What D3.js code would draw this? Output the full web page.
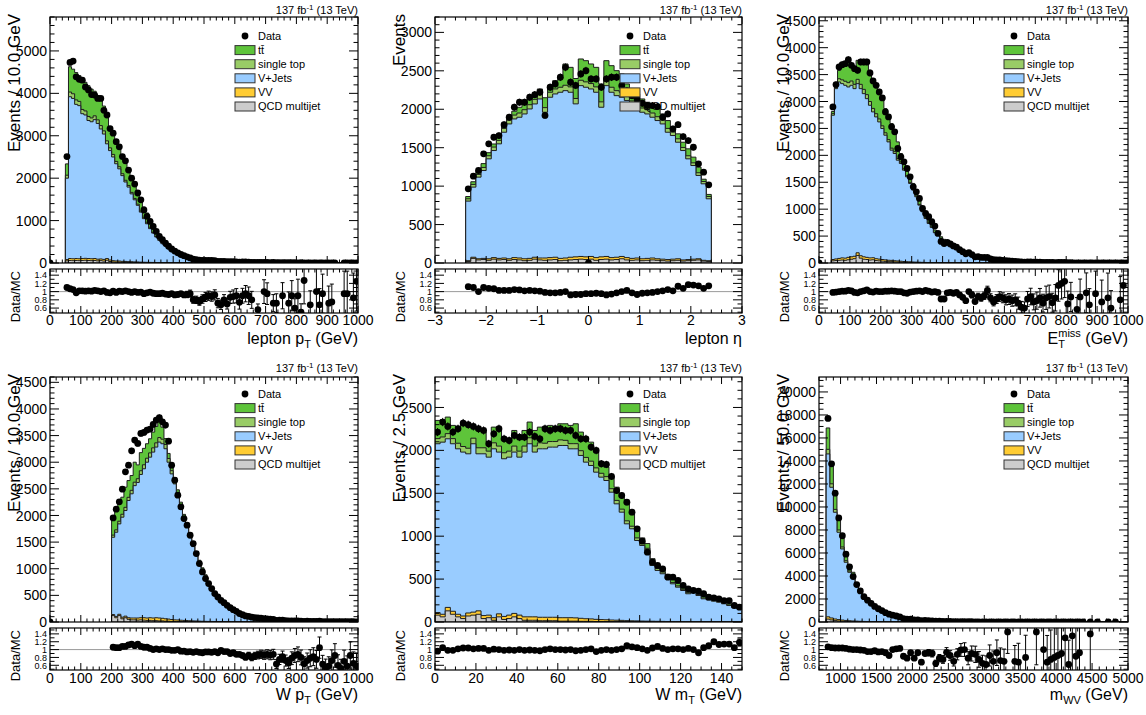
<!DOCTYPE html>
<html><head><meta charset="utf-8">
<script src="https://cdn.jsdelivr.net/npm/d3@7"></script>
<style>
body{margin:0;background:#fff}
svg{display:block}
text{font-family:"Liberation Sans",Arial,Helvetica,sans-serif;fill:#000}
</style>
</head><body>
<svg id="c" width="1146" height="715"></svg>
<script>
// ---------------- DATA ----------------
const legendLabels = ["Data","tt\u0304","single top","V+Jets","VV","QCD multijet"];
const lumiText = "137 fb";

// Panel 1: lepton pT, bins of 10 GeV starting at 50 GeV
const p1Qcd = [50,60,55,60,55,60,65,60,55,60, 50,55,45,65,35,25,20,20,15,15, 12,12,10,10,8,8,7,6,6,5, 5,4,4,3,3,3,2,2,2,2, 2,2,1,1,1,1,1,1,1,1, 0,0,0,0,0,0,0,0,0,0, 0,0,0,0,0,0,0,0,0,0, 0,0,0,0,0,0,0,0,0,0, 0,0,0,0,0,0,0,0,0,0, 0,0,0,0,0];
const p1VV = [30,45,45,45,45,45,45,45,45,45, 40,40,40,40,35,30,28,26,24,22, 20,18,16,14,12,10,9,8,7,6, 5,5,4,4,3,3,3,2,2,2, 2,2,2,2,1,1,1,1,1,1, 1,1,1,1,1,1,1,1,1,1, 0,0,0,0,0,0,0,0,0,0, 0,0,0,0,0,0,0,0,0,0, 0,0,0,0,0,0,0,0,0,0, 0,0,0,0,0];
const p1VJets = [1920,3815,3780,3635,3610,3415,3380,3255,3230,3275, 3200,3065,2955,2705,2580,2445,2292,2174,2021,1873, 1758,1600,1464,1336,1180,1027,909,796,692,601, 523,446,384,330,284,244,210,181,156,136, 118,103,91,80,72,64,58,53,48,44, 41,37,34,31,29,27,25,23,21,19, 19,18,17,16,15,14,13,12,11,10, 10,9,9,8,8,7,7,7,6,6, 6,5,5,5,5,4,4,4,4,4, 3,3,3,3,3];
const p1Stop = [70,110,110,105,100,100,95,95,90,90, 85,80,75,70,65,60,55,50,45,40, 38,35,32,28,25,22,20,18,16,14, 12,10,9,8,7,6,5,5,4,4, 3,3,3,2,2,2,2,2,1,1, 1,1,1,1,1,1,1,1,1,1, 0,0,0,0,0,0,0,0,0,0, 0,0,0,0,0,0,0,0,0,0, 0,0,0,0,0,0,0,0,0,0, 0,0,0,0,0];
const p1TT = [267,598,580,645,610,710,675,725,680,580, 575,660,585,570,435,490,455,430,395,400, 342,335,298,272,275,253,235,202,179,154, 125,115,99,85,73,64,55,48,41,34, 30,25,21,19,16,14,12,11,10,9, 8,7,6,6,5,5,4,4,4,3, 3,3,3,2,2,2,2,2,2,2, 1,1,1,1,1,1,1,1,1,1, 1,1,1,1,1,0,0,0,0,0, 0,0,0,0,0];
const p1Data = [2510,4730,4760,4390,4330,4310,4150,4080,3970,3960, 3880,3880,3600,3490,3170,3060,2860,2740,2510,2410, 2190,2000,1860,1650,1490,1250,1100,980,860,745, 630,550,470,395,330,280,240,200,172,145, 120,90,80,68,64,62,64,60,55,40, 36,40,32,34,30,27,20,25,23,18, 15,14,16,15,12,13,11,12,10,9, 8,9,7,6,7,5,6,5,5,4, 4,3,3,4,3,3,3,3,null,null, 3,3,2,2,3];
const p1Ratio = [1.10,1.07,1.05,0.97,1.02,1.02,1.01,1.02,1.01,1.03, 1.02,1.00,1.02,0.98,0.97,1.01,0.98,1.01,1.00,1.02, 1.00,0.98,1.00,0.98,0.99,0.95,0.97,0.99,0.96,0.95, 0.95,0.96,0.94,0.93,0.95,0.92,0.93,0.95,0.92,0.93, 0.95,0.80,0.80,0.76,0.82,0.87,0.90,0.88,0.92,0.72, 0.68,0.80,0.70,0.86,0.88,0.90,0.74,0.90,0.95,0.90, 0.80,null,0.56,null,1.00,0.95,null,0.72,0.72,null, 0.90,null,0.72,0.90,0.60,0.90,0.50,1.27,null,0.68, null,1.00,0.68,0.95,null,0.72,0.75,null,null,null, 0.95,0.95,null,0.85,1.25];

// Panel 2: lepton eta, bins of 0.1 starting at -2.4
const p2Qcd = [20,60,40,45,35,50,40,45,35,45, 40,30,35,50,40,35,40,45,30,35, 40,45,50,45,50,35,45,50,40,45, 55,40,35,40,30,35,40,35,30,25, 30,35,25,30,35,40,25,20];
const p2VV = [10,15,15,15,20,20,20,20,20,25, 25,25,25,25,25,30,30,30,30,30, 35,35,35,35,35,35,35,35,30,30, 30,30,25,25,25,25,25,20,20,20, 20,20,15,15,15,15,10,10];
const p2VJets = [775,912,1062,1143,1300,1393,1490,1636,1754,1804, 1831,1884,1944,1994,2069,1896,2086,2124,2161,2177, 2146,1990,2222,2206,2179,2151,1946,2222,2151,2102, 2071,2043,1988,1939,1906,1879,1831,1798,1759,1656, 1608,1516,1423,1310,1218,1084,995,805];
const p2Stop = [30,35,35,40,40,45,45,50,50,50, 55,55,55,60,60,60,65,65,65,70, 70,70,70,70,70,70,70,70,65,65, 65,65,60,60,55,55,55,50,50,50, 45,45,40,40,35,35,30,30];
const p2TT = [30,35,40,50,40,40,45,40,50,50, 75,66,75,48,70,129,86,108,151,277, 254,260,277,276,255,254,233,255,281,260, 238,151,156,135,118,97,97,118,80,102, 63,64,68,90,74,73,30,27];
const p2Data = [965,1130,1203,1420,1550,1636,1658,1800,1896,2026, 2091,2091,2156,2190,2221,1920,2286,2329,2416,2545, 2351,2310,2459,2502,2394,2394,2286,2394,2416,2416, 2307,2242,2177,2134,2078,2048,2048,2035,1896,1939, 1745,1800,1645,1593,1506,1290,1182,1017];
const p2Ratio = [1.12,1.10,1.00,1.10,1.08,1.07,1.03,1.03,1.03,1.05, 1.04,1.02,1.03,1.02,1.01,0.98,0.97,0.97,0.98,1.00, 0.92,0.93,0.93,0.95,0.95,0.96,0.95,0.92,0.94,0.97, 1.00,1.03,0.97,0.93,0.96,0.97,0.98,1.00,1.02,1.05, 1.02,1.13,1.08,1.17,1.16,1.14,1.08,1.14];

// Panel 3: missing ET, bins of 10 GeV starting at 40 GeV
const p3Qcd = [40,45,50,55,50,60,70,80,140,90, 70,65,55,60,45,40,35,30,25,25, 20,18,15,12,10,10,8,7,6,5, 4,4,3,3,3,2,2,2,2,1, 1,1,1,1,1,1,1,1,1,1, 0,0,0,0,0,0,0,0,0,0, 0,0,0,0,0,0,0,0,0,0, 0,0,0,0,0,0,0,0,0,0, 0,0,0,0,0,0,0,0,0,0, 0,0,0,0,0,0];
const p3VV = [25,30,35,40,40,45,45,45,50,45, 45,40,40,38,35,32,30,28,26,24, 22,20,18,16,14,12,10,9,8,7, 6,5,5,4,4,3,3,3,3,2, 2,2,2,2,1,1,1,1,1,1, 0,0,0,0,0,0,0,0,0,0, 0,0,0,0,0,0,0,0,0,0, 0,0,0,0,0,0,0,0,0,0, 0,0,0,0,0,0,0,0,0,0, 0,0,0,0,0,0];
const p3VJets = [2680,3164,3278,3237,3211,3165,3186,3114,3142,3104, 3031,2948,2835,2709,2634,2549,2433,2316,2199,2047, 1992,1872,1816,1697,1577,1456,1336,1214,1061,940, 818,726,653,555,531,452,403,365,333,307, 279,252,229,205,178,159,140,126,117,108, 95,86,76,69,62,55,50,44,40,36, 32,29,26,23,21,19,17,15,14,12, 11,10,9,8,7,7,6,6,5,5, 4,4,4,3,3,3,3,3,2,2, 2,2,1,1,1,1];
const p3Stop = [30,50,60,70,75,80,80,80,80,80, 80,75,70,65,60,55,50,45,42,38, 35,32,28,25,22,20,18,16,14,12, 10,9,8,7,6,5,5,4,4,3, 3,3,2,2,2,2,1,1,1,1, 0,0,0,0,0,0,0,0,0,0, 0,0,0,0,0,0,0,0,0,0, 0,0,0,0,0,0,0,0,0,0, 0,0,0,0,0,0,0,0,0,0, 0,0,0,0,0,0];
const p3TT = [40,60,157,270,327,415,322,291,353,446, 508,606,580,553,558,470,505,449,453,456, 398,308,157,99,102,103,106,77,79,81, 52,53,36,43,37,26,26,22,18,17, 15,12,11,10,8,7,7,6,5,4, 5,4,4,3,3,3,2,2,2,2, 2,1,1,1,1,1,1,1,1,1, 1,1,1,1,1,1,1,1,1,1, 0,0,0,0,0,0,0,0,0,0, 0,0,0,0,0,0];
const p3Data = [2900,3314,3641,3685,3703,3777,3672,3610,3580,3734, 3734,3734,3530,3381,3301,3177,3066,2807,2714,2529, 2436,2127,1972,1879,1756,1601,1416,1323,1199,1014, 921,859,766,686,550,400,360,384,353,317, 294,248,211,172,190,156,114,119,106,103, 103,76,60,59,57,49,42,38,33,30, 24,19,16,20,19,15,14,14,11,9, 10,10,7,9,10,10,5,6,0,4, 4,0,4,3,0,3,0,2,0,2, 2,0,0,2,2,0];
const p3Ratio = [0.98,0.99,1.00,1.01,1.01,1.03,1.02,0.98,0.97,1.00, 1.02,1.04,1.00,0.99,1.01,1.00,1.00,1.01,1.01,1.02, 1.01,1.00,1.00,0.97,0.96,0.99,1.00,1.01,1.02,1.00, 1.03,1.01,0.99,1.00,0.98,0.82,0.82,0.97,0.98,0.96, 0.98,0.92,0.86,0.78,1.00,0.92,0.76,0.88,0.85,0.90, 1.03,0.85,0.75,0.82,0.88,0.85,0.80,0.82,0.78,0.80, 0.72,0.62,0.60,0.82,0.88,0.75,0.78,0.85,0.72,0.85, 0.88,0.73,0.85,1.15,1.20,1.25,0.70,0.87,null,0.57, 0.87,null,0.97,0.68,null,0.95,null,0.75,null,0.85, 0.60,null,null,0.80,1.15,null];

// Panel 4: W pT, bins of 10 GeV starting at 200 GeV
const p4Qcd = [120,80,120,60,80,50,40,40,35,40, 35,30,30,25,25,20,20,15,15,12, 10,10,8,8,7,6,5,5,4,4, 3,3,3,2,2,2,2,2,1,1, 1,0,0,0,0,0,0,0,0,0, 0,0,0,0,0,0,0,0,0,0, 0,0,0,0,0,0,0,0,0,0, 0,0,0,0,0,0,0,0,0,0];
const p4VV = [20,25,25,30,30,30,35,35,40,40, 45,45,50,50,55,55,50,45,40,35, 30,28,25,22,20,18,16,14,12,10, 9,8,7,6,5,5,4,4,3,3, 3,2,2,2,2,2,2,2,2,2, 2,1,1,1,1,1,1,1,1,1, 1,1,1,1,1,1,1,1,1,1, 1,1,1,1,1,1,1,1,1,1];
const p4VJets = [1451,1580,1697,1878,1983,2201,2332,2485,2545,2690, 2797,2925,3015,3115,3204,3303,3277,3193,2945,2734, 2553,2337,2122,1906,1753,1580,1395,1247,1099,964, 841,723,630,544,463,407,351,301,259,222, 190,169,148,131,116,103,92,83,74,67, 60,54,49,44,39,35,32,29,26,23, 21,19,17,16,14,13,12,11,10,9, 8,7,7,6,6,5,5,4,4,3];
const p4Stop = [40,45,50,55,60,60,65,65,70,70, 75,75,80,80,80,85,85,80,70,60, 50,45,40,35,30,27,24,21,18,16, 14,12,11,10,9,8,7,6,5,5, 4,3,3,3,2,2,2,2,2,1, 1,0,0,0,0,0,0,0,0,0, 0,0,0,0,0,0,0,0,0,0, 0,0,0,0,0,0,0,0,0,0];
const p4TT = [337,362,326,320,378,315,278,375,260,340, 308,272,265,296,308,353,226,110,95,80, 70,62,55,50,45,40,35,30,26,23, 20,17,15,13,11,10,8,7,6,5, 4,4,3,3,3,2,2,2,2,2, 1,1,1,1,1,1,1,1,1,1, 1,0,0,0,0,0,0,0,0,0, 0,0,0,0,0,0,0,0,0,0];
const p4Data = [1955,2118,2256,2494,2820,2945,3214,3415,3352,3540, 3559,3603,3622,3709,3791,3835,3759,3697,3396,2945, 2663,2381,2162,1942,1817,1629,1472,1284,1097,940, 815,721,627,533,470,407,363,313,269,232, 200,160,136,114,107,90,84,77,71,63, 58,52,48,31,33,33,26,22,23,23, 22,18,13,14,13,13,11,15,8,7, 6,7,8,5,5,6,5,6,5,3];
const p4Ratio = [1.06,1.05,1.05,1.08,1.08,1.12,1.14,1.10,1.14,1.08, 1.06,1.06,1.03,1.00,1.02,1.00,1.02,1.00,1.00,0.98, 0.98,1.00,0.96,0.96,0.94,0.95,0.93,0.95,0.93,0.92, 0.94,0.94,0.93,0.95,0.92,0.98,0.95,0.95,0.90,0.92, 0.88,0.88,0.85,0.80,0.85,0.80,0.84,0.86,0.88,0.86, 0.88,0.86,0.88,0.63,0.75,0.82,0.72,0.66,0.78,0.85, 0.88,0.80,0.64,0.72,0.78,0.82,0.75,1.05,0.63,0.55, 0.58,0.72,0.85,0.60,0.52,0.70,0.58,0.85,0.65,0.58];

// Panel 5: W mT, bins of 2.5 GeV starting at 0
const p5Qcd = [80,60,130,90,60,40,70,80,90,40, 50,20,60,30,40,60,40,20,20,20, 15,15,15,15,10,10,10,10,8,8, 8,6,6,6,5,5,5,4,4,4, 3,3,3,3,2,2,2,2,2,2, 2,2,1,1,1,1,1,1,1,1];
const p5VV = [30,30,40,35,30,30,35,35,40,35, 30,30,35,35,40,40,40,40,40,40, 40,40,40,40,40,40,40,38,35,30, 28,25,22,20,18,16,14,12,10,9, 8,7,6,5,5,4,4,4,3,3, 3,3,3,2,2,2,2,2,2,2];
const p5VJets = [1967,2006,1965,1952,1928,1910,1855,1962,1830,1885, 1841,1968,1885,1837,1841,1880,1841,1920,2017,1920, 1963,1963,1983,1983,2007,2007,1968,1970,1898,1825, 1788,1715,1660,1623,1490,1356,1261,1128,1072,937, 881,823,650,593,555,497,439,400,362,324, 343,304,266,255,240,228,209,189,162,150];
const p5Stop = [60,60,60,60,65,65,65,65,70,70, 70,70,70,70,70,70,70,70,70,70, 70,65,65,65,65,60,60,60,55,55, 50,50,45,45,40,40,35,35,30,30, 28,26,24,22,20,18,16,15,14,13, 12,11,10,9,8,8,7,7,6,6];
const p5TT = [212,201,193,154,188,265,266,129,202,183, 105,183,202,182,144,182,183,182,183,182, 183,188,188,168,188,193,213,232,217,236, 222,184,130,111,135,154,140,198,144,125, 60,55,55,45,40,35,35,30,25,25, 22,22,20,20,18,16,15,14,12,12];
const p5Data = [2213,2330,2279,2213,2252,2318,2299,2279,2252,2232, 2077,2193,2252,2135,2115,2174,2154,2154,2213,2162, 2135,2252,2232,2252,2252,2232,2232,2174,2135,2135, 2038,1999,1844,1836,1696,1532,1474,1396,1280,1086, 942,814,697,659,620,522,522,484,426,387, 367,360,329,289,282,270,250,250,192,173];
const p5Ratio = [0.96,1.05,0.98,0.98,1.02,1.04,1.04,1.02,1.03,1.03, 0.98,1.01,1.00,0.98,0.99,0.98,1.00,0.98,0.99,0.98, 0.97,1.00,1.02,1.00,1.00,0.99,1.00,0.97,0.98,1.00, 1.02,0.95,0.98,1.00,0.98,1.00,1.02,1.10,1.07,1.05, 1.02,0.98,1.04,1.08,1.03,1.00,1.02,1.02,1.00,1.03, 1.00,0.92,1.05,1.10,1.20,1.13,1.14,1.14,1.05,1.18];

// Panel 6: m_WV, bins of 50 GeV starting at 800 GeV
const p6Qcd = [250,180,120,90,70,50,40,30,25,20, 15,12,10,8,6,5,4,3,3,2, 2,2,1,1,1,1,1,1,1,1, 0,0,0,0,0,0,0,0,0,0, 0,0,0,0,0,0,0,0,0,0, 0,0,0,0,0,0,0,0,0,0, 0,0,0,0,0,0,0,0,0,0, 0,0,0,0,0,0,0,0,0,0, 0,0,0,0];
const p6VV = [200,170,140,120,100,85,70,60,50,42, 35,30,25,21,18,15,13,11,9,8, 7,6,5,4,4,3,3,2,2,2, 1,1,1,1,1,1,1,1,1,1, 0,0,0,0,0,0,0,0,0,0, 0,0,0,0,0,0,0,0,0,0, 0,0,0,0,0,0,0,0,0,0, 0,0,0,0,0,0,0,0,0,0, 0,0,0,0];
const p6VJets = [14160,11363,9280,7591,6182,5057,4212,3797,3087,2521, 2098,1757,1474,1248,1050,880,738,654,540,455, 369,302,256,223,193,168,146,127,110,95, 84,73,63,55,48,42,36,31,27,23, 21,18,16,14,12,10,9,8,7,6, 5,4.5,4,3.5,3,2.6,2.3,2,1.8,1.6, 1.4,1.2,1.1,1,0.9,0.8,0.7,0.6,0.55,0.5, 0.45,0.4,0.35,0.3,0.3,0.25,0.2,0.2,0.2,0.15, 0.15,0.1,0.1,0.1];
const p6Stop = [400,300,250,200,170,140,110,90,70,55, 45,35,30,25,20,17,14,12,10,8, 7,6,5,4,4,3,3,2,2,2, 1,1,1,1,1,0,0,0,0,0, 0,0,0,0,0,0,0,0,0,0, 0,0,0,0,0,0,0,0,0,0, 0,0,0,0,0,0,0,0,0,0, 0,0,0,0,0,0,0,0,0,0, 0,0,0,0];
const p6TT = [1861,1874,1489,1104,1134,730,470,345,133,89, 99,81,86,91,67,70,73,46,48,50, 51,33,30,25,20,18,15,13,11,10, 9,8,7,6,5,4,4,3,3,2, 2,1,1,1,1,1,1,1,1,1, 1,0,0,0,0,0,0,0,0,0, 0,0,0,0,0,0,0,0,0,0, 0,0,0,0,0,0,0,0,0,0, 0,0,0,0];
const p6Data = [17700,13750,11200,9050,7500,5900,4800,3950,3250,2700, 2200,1900,1620,1350,1150,990,810,680,590,520, 445,300,240,245,185,190,120,140,125,105, 65,68,56,60,48,35,38,37,33,22, 22,18,14,10,8,10,7,8,5,5, 7,0,3,2,0,2,0,0,3,0, 1,1,1,1,1,1,1,1,1,1, 1,0,null,1,null,1,null,null,1,null, 1,null,null,null];
const p6Ratio = [1.07,1.05,1.04,1.04,1.04,1.03,1.01,1.00,1.00,0.99, 0.98,0.95,0.95,0.97,0.94,0.95,0.92,0.85,1.00,1.02, 1.03,0.83,0.78,0.92,0.78,0.92,0.68,0.90,0.92,0.90, 0.65,0.78,0.75,0.93,0.85,0.70,0.88,0.99,1.00,0.78, 0.90,0.88,0.75,0.65,0.62,0.85,0.70,0.92,0.72,0.70, 1.45,null,0.70,0.68,null,0.80,null,null,1.45,null, 1.00,0.68,0.75,0.80,0.85,0.90,1.30,0.62,1.35,0.83, 0.92,null,null,1.40,null,null,null,null,null,null, null,null,null,null];

// ---------------- LAYOUT / STYLE ----------------
const COLORS = {tt:"#5ec43a", stop:"#99cc66", vjets:"#99ccff", vv:"#ffcc33", qcd:"#cccccc"};
const COLS = [{x0:50,x1:358},{x0:435,x1:742},{x0:819,x1:1128}];
const ROWS = [
  {mainTop:17, mainBot:263, ratioTop:269, ratioBot:313, tickY:325, titleY:344, headY:14, legY:36},
  {mainTop:377, mainBot:622, ratioTop:628, ratioBot:670, tickY:683, titleY:700, headY:372, legY:394}
];

const panels = [
 {col:0,row:0,start:50,width:10,xDomain:[0,1000],yMax:5800,yMajor:1000,yMinor:200,xMajor:100,xMinor:20,
  ytitle:"Events / 10.0 GeV", xtitle:"pt:lepton", zeroDot:true,
  qcd:p1Qcd,vv:p1VV,vjets:p1VJets,stop:p1Stop,tt:p1TT,data:p1Data,ratio:p1Ratio},
 {col:1,row:0,start:-2.4,width:0.1,xDomain:[-3,3],yMax:3200,yMajor:500,yMinor:100,xMajor:1,xMinor:0.2,
  ytitle:"Events", xtitle:"eta", zeroDot:true,
  qcd:p2Qcd,vv:p2VV,vjets:p2VJets,stop:p2Stop,tt:p2TT,data:p2Data,ratio:p2Ratio},
 {col:2,row:0,start:40,width:10,xDomain:[0,1000],yMax:4570,yMajor:500,yMinor:100,xMajor:100,xMinor:20,
  ytitle:"Events / 10.0 GeV", xtitle:"met", zeroDot:true,
  qcd:p3Qcd,vv:p3VV,vjets:p3VJets,stop:p3Stop,tt:p3TT,data:p3Data,ratio:p3Ratio},
 {col:0,row:1,start:200,width:10,xDomain:[0,1000],yMax:4600,yMajor:500,yMinor:100,xMajor:100,xMinor:20,
  ytitle:"Events / 10.0 GeV", xtitle:"pt:W", zeroDot:true,
  qcd:p4Qcd,vv:p4VV,vjets:p4VJets,stop:p4Stop,tt:p4TT,data:p4Data,ratio:p4Ratio},
 {col:1,row:1,start:0,width:2.5,xDomain:[0,150],yMax:2855,yMajor:500,yMinor:100,xMajor:20,xMinor:5,
  ytitle:"Events / 2.5 GeV", xtitle:"mt", zeroDot:false,
  qcd:p5Qcd,vv:p5VV,vjets:p5VJets,stop:p5Stop,tt:p5TT,data:p5Data,ratio:p5Ratio},
 {col:2,row:1,start:800,width:50,xDomain:[700,5000],yMax:21300,yMajor:2000,yMinor:500,xMajor:500,xMinor:100,
  ytitle:"Events / 50.0 GeV", xtitle:"mwv", zeroDot:false,
  qcd:p6Qcd,vv:p6VV,vjets:p6VJets,stop:p6Stop,tt:p6TT,data:p6Data,ratio:p6Ratio}
];

const svg = d3.select("#c");
svg.append("rect").attr("width",1146).attr("height",715).attr("fill","#fff");

function tickVals(min,max,step){
  const out=[]; const a=Math.ceil(min/step-1e-6), b=Math.floor(max/step+1e-6);
  for(let i=a;i<=b;i++) out.push(+(i*step).toFixed(6));
  return out;
}
function fmtX(v){ return v<0 ? "\u2212"+Math.abs(v) : String(v); }

function xTitle(g, kind, x, y){
  const t = g.append("text").attr("x",x).attr("y",y).attr("text-anchor","end").attr("font-size",16);
  const sub = (s)=>{ t.append("tspan").attr("dy",4).attr("font-size",11).text(s); };
  const back = (s)=>{ t.append("tspan").attr("dy",-4).attr("font-size",16).text(s); };
  if(kind==="pt:lepton"){ t.append("tspan").text("lepton p"); sub("T"); back(" (GeV)"); }
  else if(kind==="pt:W"){ t.append("tspan").text("W p"); sub("T"); back(" (GeV)"); }
  else if(kind==="mt"){ t.append("tspan").text("W m"); sub("T"); back(" (GeV)"); }
  else if(kind==="mwv"){ t.append("tspan").text("m"); sub("WV"); back(" (GeV)"); }
  else if(kind==="eta"){ t.append("tspan").text("lepton \u03b7"); }
  else if(kind==="met"){
    t.append("tspan").text("E");
    t.append("tspan").attr("dy",4).attr("font-size",11).text("T");
    t.append("tspan").attr("dx",-6.7).attr("dy",-11).attr("font-size",11).text("miss");
    t.append("tspan").attr("dy",7).attr("font-size",16).text(" (GeV)");
  }
}

function drawPanel(P, idx){
  const C = COLS[P.col], R = ROWS[P.row];
  const g = svg.append("g");
  const x = d3.scaleLinear().domain(P.xDomain).range([C.x0, C.x1]);
  const y = d3.scaleLinear().domain([0,P.yMax]).range([R.mainBot, R.mainTop]);
  const yr = d3.scaleLinear().domain([0.48,1.55]).range([R.ratioBot, R.ratioTop]);
  const n = P.data.length;
  const edge = i => P.start + i*P.width;

  const defs = svg.append("defs");
  defs.append("clipPath").attr("id","cm"+idx).append("rect")
    .attr("x",C.x0).attr("y",R.mainTop).attr("width",C.x1-C.x0).attr("height",R.mainBot-R.mainTop);
  defs.append("clipPath").attr("id","cr"+idx).append("rect")
    .attr("x",C.x0).attr("y",R.ratioTop).attr("width",C.x1-C.x0).attr("height",R.ratioBot-R.ratioTop);

  // stacked histograms (cumulative, drawn from the top layer down, like THStack)
  const comps = [P.qcd,P.vv,P.vjets,P.stop,P.tt];
  const cols = [COLORS.qcd,COLORS.vv,COLORS.vjets,COLORS.stop,COLORS.tt];
  const cum = []; let run = new Array(n).fill(0);
  comps.forEach(c=>{ run = run.map((v,i)=>v+(c[i]||0)); cum.push(run.slice()); });
  const gm = g.append("g").attr("clip-path",`url(#cm${idx})`);
  for(let k=4;k>=0;k--){
    const vals = cum[k];
    let d = `M${x(edge(0))},${y(0)}`;
    for(let i=0;i<n;i++){ d += `L${x(edge(i))},${y(vals[i])}L${x(edge(i+1))},${y(vals[i])}`; }
    d += `L${x(edge(n))},${y(0)}Z`;
    gm.append("path").attr("d",d).attr("fill",cols[k]).attr("stroke","#1e1e1e").attr("stroke-width",1);
  }
  // data points
  const pts = [];
  P.data.forEach((v,i)=>{ if(v!==null) pts.push({x:edge(i)+P.width/2, v:v}); });
  if(P.zeroDot) pts.push({x:0, v:0});
  pts.forEach(p=>{
    if(p.v>0){
      const e=Math.sqrt(p.v);
      gm.append("line").attr("x1",x(p.x)).attr("x2",x(p.x)).attr("y1",y(p.v-e)).attr("y2",y(p.v+e))
        .attr("stroke","#000").attr("stroke-width",1);
    }
    gm.append("circle").attr("cx",x(p.x)).attr("cy",y(p.v)).attr("r",3.4).attr("fill","#000");
  });

  // ratio panel
  const gr = g.append("g").attr("clip-path",`url(#cr${idx})`);
  gr.append("line").attr("x1",C.x0).attr("x2",C.x1).attr("y1",yr(1)).attr("y2",yr(1))
    .attr("stroke","#9a9a9a").attr("stroke-width",1);
  P.ratio.forEach((r,i)=>{
    if(r===null) return;
    const cx = x(edge(i)+P.width/2);
    const dv = P.data[i];
    if(dv && dv>0){
      const e = r/Math.sqrt(dv);
      const y1 = yr(r-e), y2 = yr(r+e);
      if(Math.abs(y1-y2)>6){
        gr.append("line").attr("x1",cx).attr("x2",cx).attr("y1",y1).attr("y2",y2).attr("stroke","#000").attr("stroke-width",1);
        gr.append("line").attr("x1",cx-2).attr("x2",cx+2).attr("y1",y1).attr("y2",y1).attr("stroke","#000").attr("stroke-width",1);
        gr.append("line").attr("x1",cx-2).attr("x2",cx+2).attr("y1",y2).attr("y2",y2).attr("stroke","#000").attr("stroke-width",1);
      }
    }
    gr.append("circle").attr("cx",cx).attr("cy",yr(r)).attr("r",3.4).attr("fill","#000");
  });

  // frames
  [[R.mainTop,R.mainBot],[R.ratioTop,R.ratioBot]].forEach(([t,b])=>{
    g.append("rect").attr("x",C.x0).attr("y",t).attr("width",C.x1-C.x0).attr("height",b-t)
      .attr("fill","none").attr("stroke","#000").attr("stroke-width",1.2);
  });

  const tk = (x1,y1,x2,y2)=>g.append("line").attr("x1",x1).attr("y1",y1).attr("x2",x2).attr("y2",y2)
      .attr("stroke","#000").attr("stroke-width",1);
  const xMaj = tickVals(P.xDomain[0],P.xDomain[1],P.xMajor);
  const xMin = tickVals(P.xDomain[0],P.xDomain[1],P.xMinor);
  [[R.mainTop,R.mainBot],[R.ratioTop,R.ratioBot]].forEach(([t,b])=>{
    xMin.forEach(v=>{ const L = xMaj.some(m=>Math.abs(m-v)<1e-6)?7:3.5; const px=x(v);
      tk(px,b,px,b-L); tk(px,t,px,t+L); });
  });
  const yMaj = tickVals(0,P.yMax,P.yMajor), yMin = tickVals(0,P.yMax,P.yMinor);
  yMin.forEach(v=>{ const L = yMaj.some(m=>Math.abs(m-v)<1e-6)?9:4.5; const py=y(v);
    tk(C.x0,py,C.x0+L,py); tk(C.x1,py,C.x1-L,py); });
  yMaj.forEach(v=>{
    g.append("text").attr("x",C.x0-3).attr("y",y(v)).attr("dy","0.36em").attr("text-anchor","end")
     .attr("font-size",14).text(String(v));
  });
  const rMaj=[0.6,0.8,1.0,1.2,1.4], rMin=[0.5,0.7,0.9,1.1,1.3,1.5];
  rMaj.forEach(v=>{ tk(C.x0,yr(v),C.x0+9,yr(v)); tk(C.x1,yr(v),C.x1-9,yr(v));
    g.append("text").attr("x",C.x0-3).attr("y",yr(v)).attr("dy","0.36em").attr("text-anchor","end")
     .attr("font-size",9).text(String(v)); });
  rMin.forEach(v=>{ tk(C.x0,yr(v),C.x0+4.5,yr(v)); tk(C.x1,yr(v),C.x1-4.5,yr(v)); });
  xMaj.forEach(v=>{
    if(P.xDomain[0]===700 && v<1000) return;
    g.append("text").attr("x",x(v)).attr("y",R.tickY).attr("text-anchor","middle")
     .attr("font-size",14).text(fmtX(v));
  });
  xTitle(g, P.xtitle, C.x1, R.titleY);
  g.append("text").attr("transform",`translate(${C.x0-30},${R.mainTop-3}) rotate(-90)`)
   .attr("text-anchor","end").attr("font-size",17).text(P.ytitle);
  g.append("text").attr("transform",`translate(${C.x0-30},${R.ratioTop+2}) rotate(-90)`)
   .attr("text-anchor","end").attr("font-size",13).text("Data/MC");
  const h = g.append("text").attr("x",C.x1).attr("y",R.headY).attr("text-anchor","end").attr("font-size",11);
  h.append("tspan").text(lumiText);
  h.append("tspan").attr("dy",-4).attr("font-size",8).text("-1");
  h.append("tspan").attr("dy",4).attr("font-size",11).text(" (13 TeV)");

  const lx = C.x0+185;
  const legCols = [null, COLORS.tt, COLORS.stop, COLORS.vjets, COLORS.vv, COLORS.qcd];
  legendLabels.forEach((lab,k)=>{
    const cy = R.legY + k*14.1;
    if(k===0){ g.append("circle").attr("cx",lx+10).attr("cy",cy).attr("r",3.4).attr("fill","#000"); }
    else { g.append("rect").attr("x",lx).attr("y",cy-4.5).attr("width",20).attr("height",9)
      .attr("fill",legCols[k]).attr("stroke","#333").attr("stroke-width",1); }
    g.append("text").attr("x",lx+23).attr("y",cy).attr("dy","0.36em").attr("font-size",11).text(lab);
  });
}

panels.forEach((P,i)=>drawPanel(P,i));
</script>
</body></html>
